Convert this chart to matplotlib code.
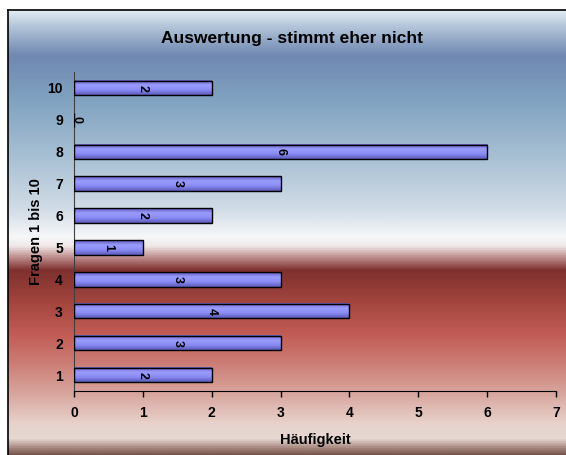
import matplotlib.pyplot as plt
import numpy as np
from matplotlib.colors import LinearSegmentedColormap

plt.rcParams['font.family'] = ['Liberation Sans', 'DejaVu Sans']

fragen = [1, 2, 3, 4, 5, 6, 7, 8, 9, 10]
haeufigkeit = [2, 3, 4, 3, 1, 2, 3, 6, 0, 2]
title = "Auswertung - stimmt eher nicht"

W, H = 566, 455
fig = plt.figure(figsize=(W / 100, H / 100), dpi=100)

# gradient background of the chart area (frame starts at x=8, y=10)
bg = fig.add_axes([8 / W, 0, 1 - 8 / W, (H - 10) / H])
stops = [(0.00, '#e2ecf2'), (0.03, '#b8cadc'), (0.10, '#7088b2'), (0.20, '#80a2c0'),
         (0.33, '#a8c0d4'), (0.45, '#d2dde7'), (0.51, '#f6f7f9'), (0.53, '#f0e8e8'),
         (0.555, '#c09090'), (0.585, '#7e302e'), (0.66, '#a4463f'), (0.73, '#c25c56'),
         (0.80, '#cc8078'), (0.87, '#d9aaa2'), (0.93, '#e8d2cb'), (0.965, '#e6d8d2'),
         (0.985, '#a88a82'), (1.00, '#7a5850')]
cmap_bg = LinearSegmentedColormap.from_list('bg', stops)
bg.imshow(np.linspace(0, 1, 512).reshape(-1, 1), aspect='auto', cmap=cmap_bg,
          extent=[0, 1, 0, 1])
bg.set_xlim(0, 1)
bg.set_ylim(0, 1)
bg.set_xticks([])
bg.set_yticks([])
for s in ['left', 'top']:
    bg.spines[s].set_linewidth(1.2)
    bg.spines[s].set_color('black')
for s in ['right', 'bottom']:
    bg.spines[s].set_visible(False)

ax = fig.add_axes([74 / W, (H - 391) / H, (556 - 74) / W, (391 - 72) / H])
ax.patch.set_alpha(0)

bar_h = 0.45
cmap_bar = LinearSegmentedColormap.from_list('bar', ['#5a5ab8', '#9c9cff', '#8a8af4', '#5a5ab8'])
grad = np.linspace(0, 1, 64).reshape(-1, 1)
bars = ax.barh(fragen, haeufigkeit, height=bar_h, color='none', edgecolor='black',
               linewidth=1.0, zorder=3)
for y, v in zip(fragen, haeufigkeit):
    if v > 0:
        ax.imshow(grad, cmap=cmap_bar, aspect='auto', zorder=2,
                  extent=[0, v, y - bar_h / 2, y + bar_h / 2])
    ax.text(v / 2 if v > 0 else 0.04, y, str(v), rotation=-90, ha='center', va='center',
            fontsize=9, fontweight='bold', zorder=4)

ax.set_xlim(0, 7)
ax.set_ylim(0.5, 10.5)
ax.set_xticks(range(0, 8))
ax.set_yticks(fragen)
ax.tick_params(axis='x', direction='out', length=4, width=1, labelsize=10, pad=7)
ax.tick_params(axis='y', length=0, labelsize=10, pad=8)
for lab in ax.get_xticklabels() + ax.get_yticklabels():
    lab.set_fontweight('bold')
ax.spines['top'].set_visible(False)
ax.spines['right'].set_visible(False)
ax.spines['left'].set_color('#404040')
ax.spines['bottom'].set_color('black')

ax.set_xlabel('Häufigkeit', fontsize=10.5, fontweight='bold', labelpad=9)
ax.set_ylabel('Fragen 1 bis 10', fontsize=10.5, fontweight='bold', labelpad=3)
fig.text(292 / W, 1 - 38 / H, title, ha='center', va='center', fontsize=12.5,
         fontweight='bold')

fig.savefig('out.png', dpi=100)
